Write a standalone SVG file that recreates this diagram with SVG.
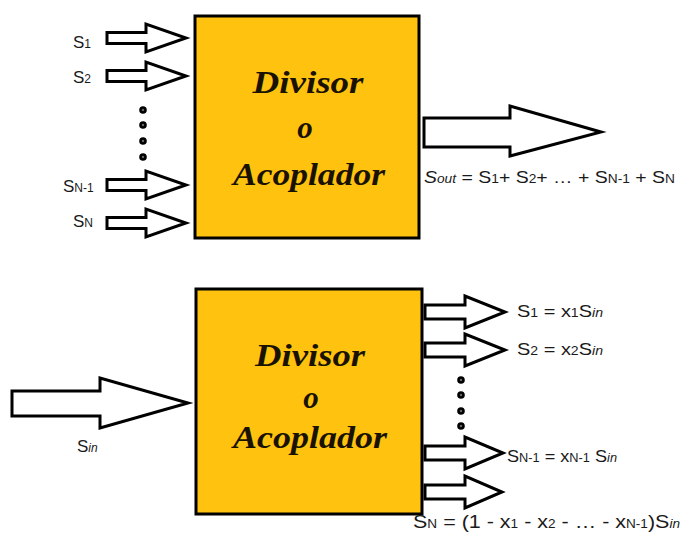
<svg xmlns="http://www.w3.org/2000/svg" width="682" height="533" viewBox="0 0 682 533">
<style>
.box{fill:#FFC20E;stroke:#000;stroke-width:3}
.title{font-family:"Liberation Serif",serif;font-weight:bold;font-style:italic;font-size:31px;fill:#1a1200;text-anchor:middle}
.arr{fill:#fff;stroke:#000;stroke-width:3;stroke-linejoin:miter}
.dot{fill:#666;stroke:#000;stroke-width:2.6}
.lbl{font-family:"Liberation Sans",Arial,sans-serif;font-size:17px;fill:#1a1a1a}
.sub{font-size:12px}
.it{font-style:italic}
</style>
<rect width="682" height="533" fill="#fff"/>
<g id="box-top">
<rect class="box" x="195" y="16" width="224" height="222"/>
<text class="title" x="308" y="93" textLength="111" lengthAdjust="spacingAndGlyphs">Divisor</text>
<text class="title" x="305" y="138">o</text>
<text class="title" x="309" y="185" textLength="152" lengthAdjust="spacingAndGlyphs">Acoplador</text>
</g>
<g id="box-bottom">
<rect class="box" x="196" y="289" width="226" height="225"/>
<text class="title" x="310" y="366" textLength="110" lengthAdjust="spacingAndGlyphs">Divisor</text>
<text class="title" x="311" y="408">o</text>
<text class="title" x="310" y="448" textLength="154" lengthAdjust="spacingAndGlyphs">Acoplador</text>
</g>
<g id="connectors">
<polygon class="arr" points="107,32.5 146,32.5 146,24 186,38 146,52 146,43.5 107,43.5"/>
<polygon class="arr" points="107,70.5 146,70.5 146,62 186,76 146,90 146,81.5 107,81.5"/>
<polygon class="arr" points="107,179.5 146,179.5 146,171 186,185 146,199 146,190.5 107,190.5"/>
<polygon class="arr" points="107,217.5 146,217.5 146,209 186,223 146,237 146,228.5 107,228.5"/>
<polygon class="arr" points="424,118 510,118 510,106 601,132 510,156 510,147 424,147"/>
<polygon class="arr" points="12,391 100,391 100,378 188,403 100,428 100,416 12,416"/>
<polygon class="arr" points="425,305 465,305 465,296 505,312 465,328 465,319 425,319"/>
<polygon class="arr" points="425,343 465,343 465,334 505,350 465,366 465,357 425,357"/>
<polygon class="arr" points="425,446 465,446 465,437 503,453 465,469 465,460 425,460"/>
<polygon class="arr" points="425,485 465,485 465,476 502,492 465,508 465,499 425,499"/>
</g>
<g id="dots">
<circle class="dot" cx="143" cy="110" r="2.5"/>
<circle class="dot" cx="143" cy="125" r="2.5"/>
<circle class="dot" cx="143" cy="141" r="2.5"/>
<circle class="dot" cx="143" cy="157" r="2.5"/>
<circle class="dot" cx="461" cy="380" r="2.5"/>
<circle class="dot" cx="461" cy="395" r="2.5"/>
<circle class="dot" cx="461" cy="411" r="2.5"/>
<circle class="dot" cx="461" cy="426" r="2.5"/>
</g>
<g id="labels">
<text class="lbl" x="73" y="48">S<tspan class="sub">1</tspan></text>
<text class="lbl" x="73" y="83">S<tspan class="sub">2</tspan></text>
<text class="lbl" x="63" y="192">S<tspan class="sub">N-1</tspan></text>
<text class="lbl" x="73" y="227">S<tspan class="sub">N</tspan></text>
<text class="lbl" x="424" y="183" textLength="251" lengthAdjust="spacingAndGlyphs"><tspan class="it">S</tspan><tspan class="sub it">out</tspan> = S<tspan class="sub">1</tspan>+ S<tspan class="sub">2</tspan>+ … + S<tspan class="sub">N-1</tspan> + S<tspan class="sub">N</tspan></text>
<text class="lbl" x="77" y="452">S<tspan class="sub it">in</tspan></text>
<text class="lbl" x="517" y="317" textLength="86" lengthAdjust="spacingAndGlyphs">S<tspan class="sub">1</tspan>  = x<tspan class="sub">1</tspan>S<tspan class="sub it">in</tspan></text>
<text class="lbl" x="517" y="355" textLength="86" lengthAdjust="spacingAndGlyphs">S<tspan class="sub">2</tspan>  = x<tspan class="sub">2</tspan>S<tspan class="sub it">in</tspan></text>
<text class="lbl" x="507" y="462" textLength="110" lengthAdjust="spacingAndGlyphs">S<tspan class="sub">N-1</tspan> = x<tspan class="sub">N-1</tspan> S<tspan class="sub it">in</tspan></text>
<text class="lbl" x="413" y="528" style="font-size:19px" textLength="267" lengthAdjust="spacingAndGlyphs">S<tspan class="sub">N</tspan> = (1 - x<tspan class="sub">1</tspan> - x<tspan class="sub">2</tspan> - … - x<tspan class="sub">N-1</tspan>)S<tspan class="sub it">in</tspan></text>
</g>
</svg>
